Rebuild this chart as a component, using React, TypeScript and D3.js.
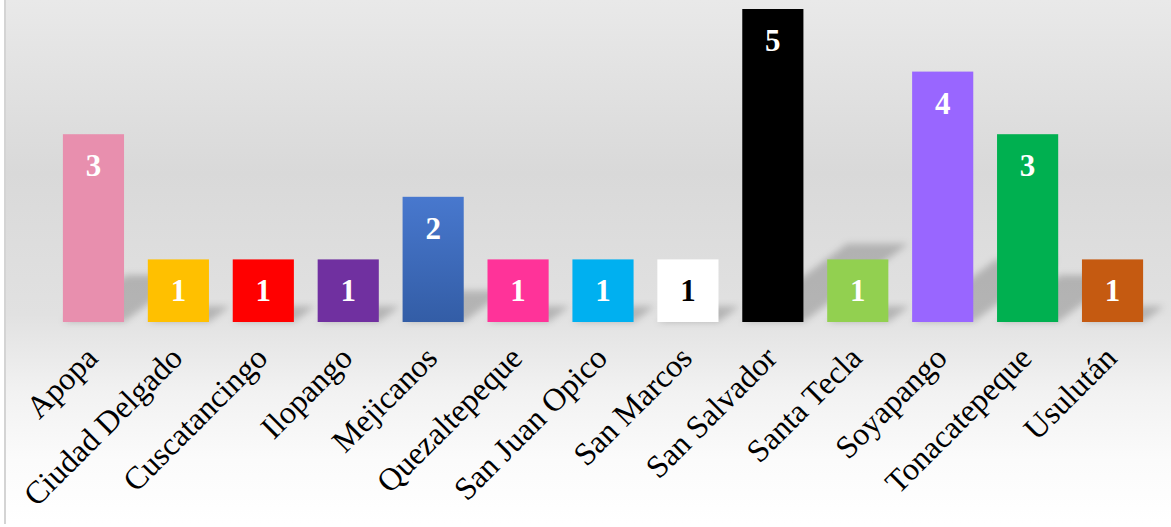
import React from "react";
import * as d3 from "d3";

const categories = ["Apopa", "Ciudad Delgado", "Cuscatancingo", "Ilopango", "Mejicanos", "Quezaltepeque", "San Juan Opico", "San Marcos", "San Salvador", "Santa Tecla", "Soyapango", "Tonacatepeque", "Usulután"];
const values = [3, 1, 1, 1, 2, 1, 1, 1, 5, 1, 4, 3, 1];
const barColors = ["#E88FAE", "#FFC000", "#FF0000", "#7030A0", "url(#blueGrad)", "#FF3399", "#00B0F0", "#FFFFFF", "#000000", "#92D050", "#9966FF", "#00B050", "#C55A11"];
const labelColors = ["#fff", "#fff", "#fff", "#fff", "#fff", "#fff", "#fff", "#000", "#fff", "#fff", "#fff", "#fff", "#fff"];

const W = 1171;
const H = 527;
const baseY = 322;

export default function App() {
  const x = d3.scaleBand<string>().domain(categories).range([51, 1155]).paddingInner(0.28).paddingOuter(0.14);
  const y = d3.scaleLinear().domain([0, 5]).range([baseY, 9]);
  const bw = x.bandwidth();

  return (
    <svg width={W} height={H} style={{ position: "absolute", left: 0, top: 0 }}>
      <defs>
        <linearGradient id="bg" x1="0" y1="0" x2="0" y2="1">
          <stop offset="0" stopColor="#e9e9e9" />
          <stop offset="0.33" stopColor="#d9d9d9" />
          <stop offset="0.6" stopColor="#e1e1e1" />
          <stop offset="0.75" stopColor="#f2f2f2" />
          <stop offset="0.88" stopColor="#fbfbfb" />
          <stop offset="1" stopColor="#ffffff" />
        </linearGradient>
        <linearGradient id="blueGrad" x1="0" y1="0" x2="0" y2="1">
          <stop offset="0" stopColor="#4878CE" />
          <stop offset="1" stopColor="#335DA6" />
        </linearGradient>
        <filter id="blur" x="-50%" y="-50%" width="200%" height="200%">
          <feGaussianBlur stdDeviation="3.5" />
        </filter>
      </defs>
      <rect x={0} y={0} width={W} height={H} fill="#ffffff" />
      <rect x={6} y={0} width={W - 6} height={H - 3} fill="url(#bg)" />
      <line x1={5} y1={0} x2={5} y2={H - 3} stroke="#d4d4d4" strokeWidth={2} />
      <g filter="url(#blur)">
        {categories.map((c, i) => {
          const x0 = x(c)!;
          const h = baseY - y(values[i]);
          const dx = h * 0.335;
          const th = h * 0.25;
          const pts = [
            [x0, baseY],
            [x0 + bw, baseY],
            [x0 + bw + dx, baseY - th],
            [x0 + dx, baseY - th],
          ];
          return <polygon key={c} points={pts.map((p) => p.join(",")).join(" ")} fill="#000" fillOpacity={0.2} />;
        })}
      </g>
      {categories.map((c, i) => (
        <rect key={c} x={x(c)} y={y(values[i])} width={bw} height={baseY - y(values[i])} fill={barColors[i]} />
      ))}
      {categories.map((c, i) => (
        <text key={c} x={x(c)! + bw / 2} y={y(values[i]) + 42} textAnchor="middle" fontFamily="'Liberation Serif', 'Times New Roman', serif" fontWeight="bold" fontSize={31} fill={labelColors[i]}>
          {values[i]}
        </text>
      ))}
      {categories.map((c) => {
        const cx = x(c)! + bw / 2 + 6;
        const cy = 360;
        return (
          <text key={c} x={cx} y={cy} transform={`rotate(-45 ${cx} ${cy})`} textAnchor="end" fontFamily="'Liberation Serif', 'Times New Roman', serif" fontSize={32} fill="#000">
            {c}
          </text>
        );
      })}
    </svg>
  );
}
